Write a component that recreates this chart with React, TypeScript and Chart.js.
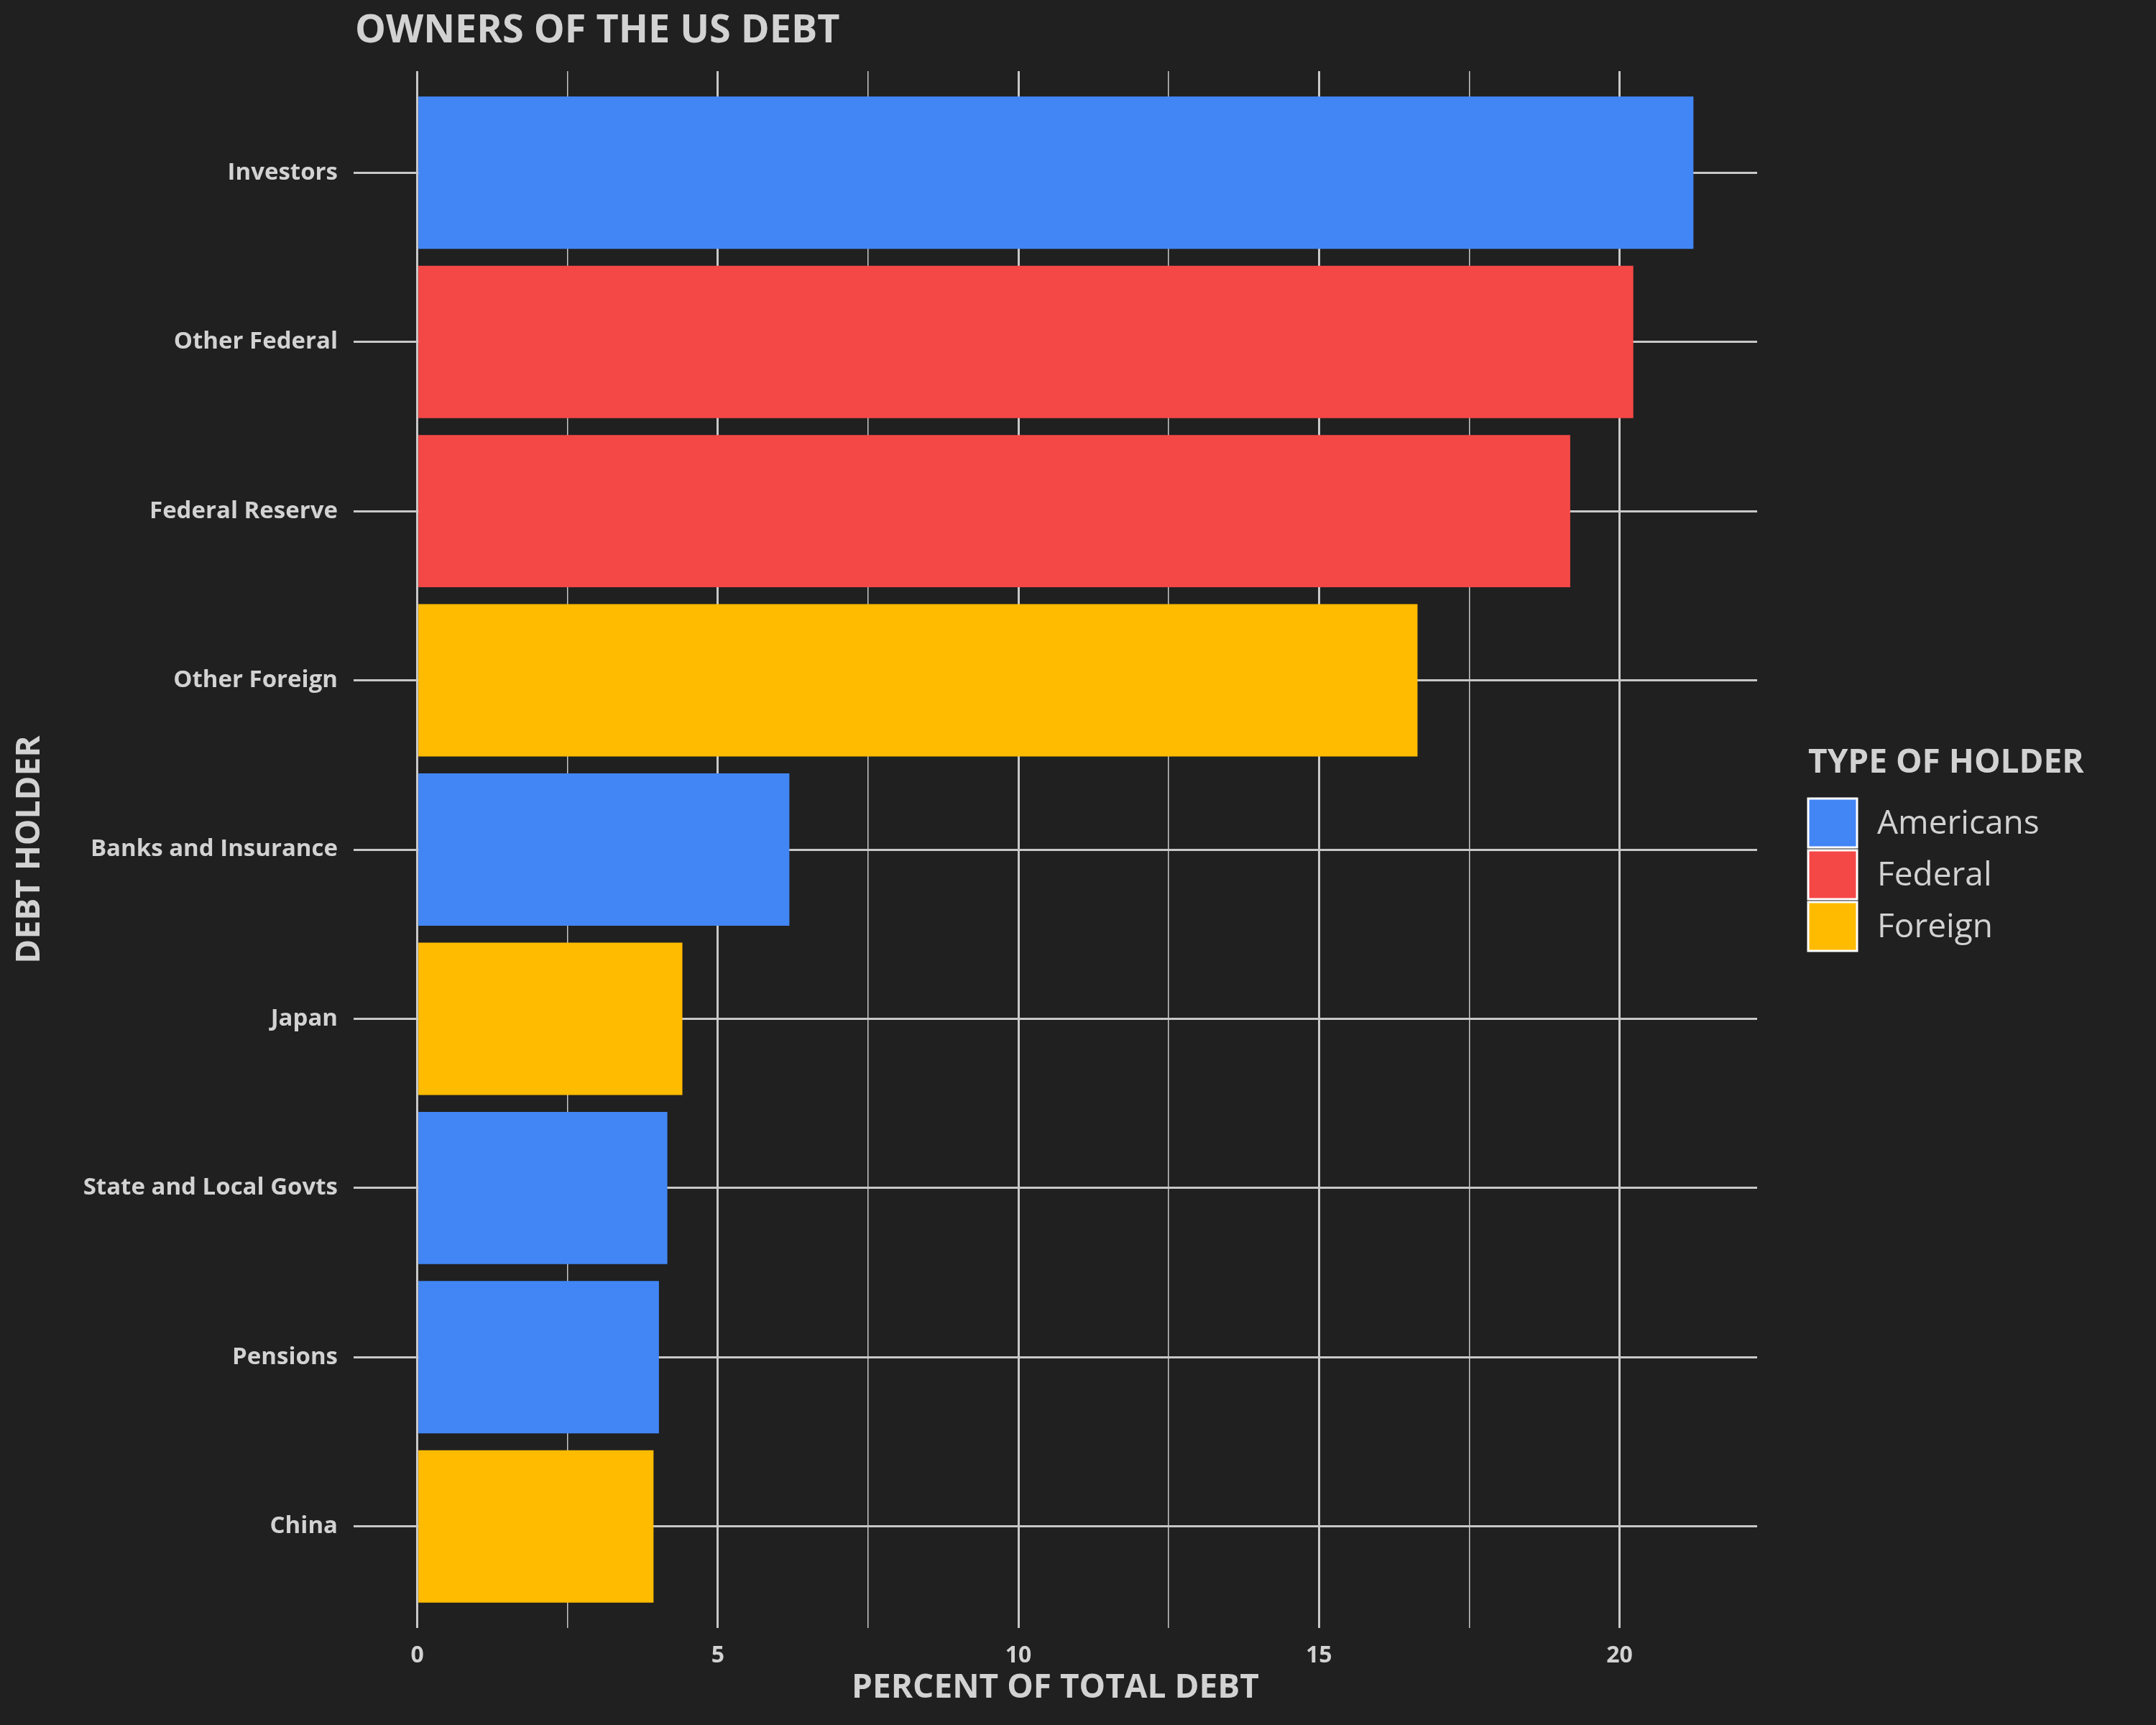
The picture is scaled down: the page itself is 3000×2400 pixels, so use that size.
import React, { useEffect, useRef } from "react";
import { Chart, registerables } from "chart.js";
Chart.register(...registerables);

const holders = ["Investors", "Other Federal", "Federal Reserve", "Other Foreign", "Banks and Insurance", "Japan", "State and Local Govts", "Pensions", "China"];
const percents = [21.23, 20.23, 19.18, 16.64, 6.19, 4.41, 4.16, 4.02, 3.93];
const holderTypes = ["Americans", "Federal", "Federal", "Foreign", "Americans", "Foreign", "Americans", "Americans", "Foreign"];
const typeNames = ["Americans", "Federal", "Foreign"];
const typeColors: Record<string, string> = { Americans: "#4286F5", Federal: "#F44847", Foreign: "#FFBB00" };

const TXT = "#d2d2d2";
const FONT = "'Open Sans'";

const overlay = {
  id: "overlay",
  afterDraw(chart: any) {
    const c = chart.ctx;
    const a = chart.chartArea;
    c.save();
    c.fillStyle = TXT;
    c.textBaseline = "middle";
    c.font = `bold 54px ${FONT}`;
    c.textAlign = "left";
    c.fillText("OWNERS OF THE US DEBT", 494, 44);
    c.font = `bold 46px ${FONT}`;
    c.textAlign = "center";
    c.fillText("PERCENT OF TOTAL DEBT", (a.left + a.right) / 2, 2349);
    c.save();
    c.translate(42, (a.top + a.bottom) / 2);
    c.rotate(-Math.PI / 2);
    c.fillText("DEBT HOLDER", 0, 0);
    c.restore();
    c.textAlign = "left";
    c.font = `bold 46px ${FONT}`;
    c.fillText("TYPE OF HOLDER", 2516, 1062);
    c.font = `46px ${FONT}`;
    typeNames.forEach((t, i) => {
      const y = 1111 + i * 72;
      c.fillStyle = typeColors[t];
      c.fillRect(2516, y, 68, 68);
      c.strokeStyle = "#ffffff";
      c.lineWidth = 3;
      c.strokeRect(2516, y, 68, 68);
      c.fillStyle = TXT;
      c.fillText(t, 2612, y + 36);
    });
    c.restore();
  },
};

export default function App() {
  const ref = useRef<HTMLCanvasElement>(null);
  useEffect(() => {
    document.body.style.margin = "0";
    document.body.style.background = "#202020";
    const chart = new Chart(ref.current!, {
      type: "bar",
      data: {
        datasets: [
          {
            data: percents.map((p, i) => ({ x: p, y: i })) as any,
            backgroundColor: holderTypes.map((t) => typeColors[t]),
            categoryPercentage: 0.9,
            barPercentage: 1,
            borderWidth: 0,
          },
        ],
      },
      options: {
        indexAxis: "y",
        animation: false,
        responsive: false,
        devicePixelRatio: 1,
        layout: { padding: { left: 0, right: 555, top: 99, bottom: 0 } },
        plugins: { legend: { display: false }, tooltip: { enabled: false } },
        scales: {
          x: {
            type: "linear",
            min: -1.06,
            max: 22.29,
            offset: false,
            afterBuildTicks: (s: any) => {
              const t = [];
              for (let v = 0; v <= 22; v += 2.5) t.push({ value: v });
              s.ticks = t;
            },
            afterFit: (s: any) => { s.height = 135; },
            border: { display: false },
            grid: {
              color: "#c8c8c8",
              lineWidth: (ctx: any) => (ctx.tick && ctx.tick.value % 5 === 0 ? 3 : 1.5),
              drawTicks: false,
            },
            ticks: {
              color: TXT,
              font: { family: "Open Sans", size: 32, weight: "bold" },
              padding: 20,
              maxRotation: 0,
              autoSkip: false,
              callback: (v: any) => (Number(v) % 5 === 0 ? String(v) : ""),
            },
          },
          y: {
            type: "linear",
            min: -0.6,
            max: 8.6,
            reverse: true,
            offset: false,
            afterBuildTicks: (s: any) => { s.ticks = holders.map((_, i) => ({ value: i })); },
            afterFit: (s: any) => { s.width = 492; },
            border: { display: false },
            grid: { color: "#c8c8c8", lineWidth: 3, drawTicks: false, offset: false },
            ticks: {
              color: TXT,
              font: { family: "Open Sans", size: 33, weight: "bold" },
              padding: 22,
              autoSkip: false,
              callback: (v: any) => holders[Number(v)] ?? "",
            },
          },
        },
      },
      plugins: [overlay],
    });
    return () => chart.destroy();
  }, []);
  return (
    <div style={{ width: 3000, height: 2400, background: "#202020" }}>
      <canvas ref={ref} width={3000} height={2400} />
    </div>
  );
}
